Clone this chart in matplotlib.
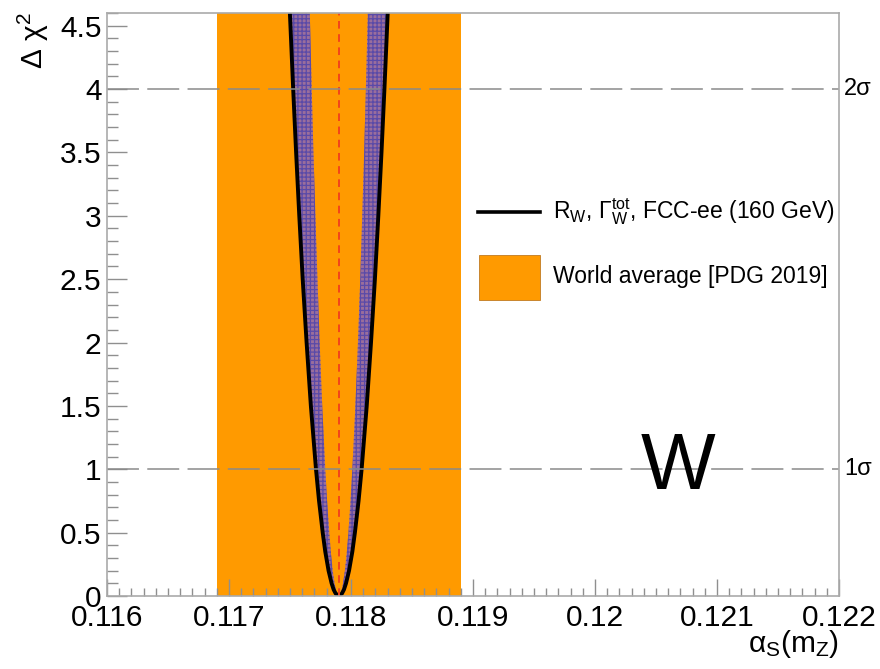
import matplotlib
matplotlib.use("Agg")
import matplotlib.pyplot as plt
from matplotlib.lines import Line2D
from matplotlib.patches import Rectangle
import numpy as np

plt.rcParams['font.family'] = ['Liberation Sans', 'DejaVu Sans']
plt.rcParams['mathtext.fontset'] = 'custom'
plt.rcParams['mathtext.rm'] = 'Liberation Sans'
plt.rcParams['mathtext.it'] = 'Liberation Sans:italic'
plt.rcParams['mathtext.bf'] = 'Liberation Sans:bold'
plt.rcParams['lines.scale_dashes'] = False
plt.rcParams['hatch.linewidth'] = 0.9

# ---- data ----
chi2_levels = [4.6, 4.0, 3.5, 3.0, 2.5, 2.0, 1.5, 1.0, 0.75, 0.5, 0.35, 0.2, 0.1, 0.05, 0.02, 0.0]

outer_left = [0.117499, 0.117526, 0.117550, 0.117576, 0.117604, 0.117636, 0.117671, 0.117713,
              0.117738, 0.117768, 0.117789, 0.117816, 0.117841, 0.117858, 0.117874, 0.117900]
outer_right = [0.118301, 0.118274, 0.118250, 0.118224, 0.118196, 0.118164, 0.118129, 0.118087,
               0.118062, 0.118032, 0.118011, 0.117984, 0.117959, 0.117942, 0.117926, 0.117900]
inner_left = [0.117662, 0.117678, 0.117692, 0.117708, 0.117725, 0.117743, 0.117764, 0.117789,
              0.117804, 0.117822, 0.117834, 0.117850, 0.117865, 0.117875, 0.117884, 0.117900]
inner_right = [0.118138, 0.118122, 0.118108, 0.118092, 0.118076, 0.118057, 0.118036, 0.118011,
               0.117996, 0.117979, 0.117966, 0.117950, 0.117935, 0.117925, 0.117916, 0.117900]

world_avg_central = 0.1179
world_avg_low = 0.1169
world_avg_high = 0.1189

sigma_levels = [1, 4]
sigma_labels = ['1σ', '2σ']

x_range = (0.116, 0.122)
y_range = (0.0, 4.6)
x_major = [0.116, 0.117, 0.118, 0.119, 0.120, 0.121, 0.122]
x_major_labels = ['0.116', '0.117', '0.118', '0.119', '0.12', '0.121', '0.122']
y_major = [0, 0.5, 1, 1.5, 2, 2.5, 3, 3.5, 4, 4.5]
y_major_labels = ['0', '0.5', '1', '1.5', '2', '2.5', '3', '3.5', '4', '4.5']

legend_curve = 'R$_{\\rm W}$, Γ$^{\\rm tot}_{\\rm W}$, FCC-ee (160 GeV)'
legend_band = 'World average [PDG 2019]'

# ---- figure ----
W, H = 880, 669
fig = plt.figure(figsize=(W / 100, H / 100), dpi=100)
L, R, B, T = 107, 839, 596, 13
ax = fig.add_axes([L / W, 1 - B / H, (R - L) / W, (B - T) / H])

orange = '#ff9a00'
ax.axvspan(world_avg_low, world_avg_high, color=orange, lw=0, zorder=1)

chi = np.array(chi2_levels)
for a, b in [(outer_left, inner_left), (inner_right, outer_right)]:
    ax.fill_betweenx(chi, a, b, facecolor='#9a6e9c', edgecolor='#5a4aa8',
                     hatch='++++', lw=0, zorder=2)

curve_x = list(outer_left) + list(outer_right[::-1][1:])
curve_y = list(chi2_levels) + list(chi2_levels[::-1][1:])
ax.plot(curve_x, curve_y, color='black', lw=2.8, zorder=4, solid_joinstyle='round')

ax.axvline(world_avg_central, color='#f2441a', lw=1.4, ls=(0, (5.5, 4)), zorder=5)

for lev in sigma_levels:
    ax.axhline(lev, color='#8a8a8a', lw=1.1, ls=(0, (23, 6)), zorder=6)

ax.set_xlim(*x_range)
ax.set_ylim(*y_range)

ax.set_xticks(x_major)
ax.set_xticklabels(x_major_labels)
ax.set_yticks(y_major)
ax.set_yticklabels(y_major_labels)
ax.set_xticks(np.arange(0.116, 0.12201, 0.0001), minor=True)
ax.set_yticks(np.arange(0, 4.61, 0.1), minor=True)

gray = '#8f8f8f'
ax.tick_params(axis='x', which='major', direction='in', length=12.5, width=1.0, color=gray,
               labelsize=21.5, pad=6, top=False)
ax.tick_params(axis='x', which='minor', direction='in', length=6, width=1.0, color=gray, top=False)
ax.tick_params(axis='y', which='major', direction='in', length=14.5, width=1.0, color=gray,
               labelsize=21.5, pad=4, right=False)
ax.tick_params(axis='y', which='minor', direction='in', length=8, width=1.0, color=gray, right=False)
for s in ax.spines.values():
    s.set_color('#aaaaaa')
    s.set_linewidth(1.2)
    s.set_zorder(10)

# sigma labels
for lev, lab in zip(sigma_levels, sigma_labels):
    ax.text(1.007, lev, lab, transform=ax.get_yaxis_transform(), ha='left', va='center',
            fontsize=17, clip_on=False)

# axis titles
fig.text(33 / W, 1 - 12 / H, 'Δ χ$^{2}$', rotation=90, ha='center', va='top', fontsize=21.5)
fig.text(R / W, 1 - 652 / H, 'α$_{\\rm S}$(m$_{\\rm Z}$)', ha='right', va='baseline', fontsize=21.5)

# big W
fig.text(678 / W, 1 - 489 / H, 'W', ha='center', va='baseline', fontsize=57)

# legend (manual)
fig.add_artist(Line2D([478 / W, 540 / W], [1 - 212 / H, 1 - 212 / H], color='black', lw=2.6,
                      transform=fig.transFigure))
fig.add_artist(Rectangle((479 / W, 1 - 300 / H), 61 / W, 45 / H, facecolor=orange,
                         edgecolor='#c07a20', lw=0.6, transform=fig.transFigure))
fig.text(553 / W, 1 - 212 / H, legend_curve, ha='left', va='center', fontsize=16.5)
fig.text(553 / W, 1 - 277 / H, legend_band, ha='left', va='center', fontsize=16.5)

fig.savefig('out.png', dpi=100)
